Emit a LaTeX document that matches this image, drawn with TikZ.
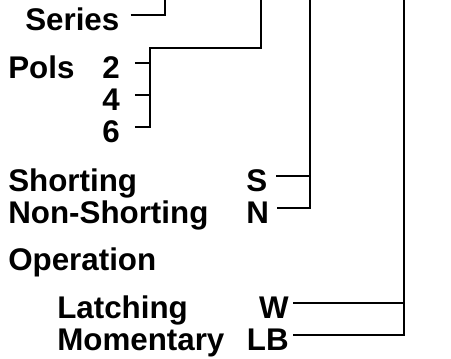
\documentclass[tikz,border=0pt]{standalone}
\usepackage{fontspec}
\setmainfont{Liberation Sans}
\usetikzlibrary{positioning, calc}

\begin{document}
\begin{tikzpicture}[
        x=0.75pt, y=-0.75pt,
        lbl/.style={anchor=base west, inner sep=0pt, font=\fontsize{23.5}{28}\selectfont\bfseries},
        code/.style={lbl},
        wire/.style={line width=1.4pt}
    ]
        \useasboundingbox (0,0) rectangle (451,358);

        % Beschriftungen links
        \node[lbl] (series) at (25,30) {Series};
        \node[lbl] (pols) at (8,78) {Pols};
        \node[lbl] (shorting) at (8,191) {Shorting};
        \node[lbl] (nonshorting) at (8,223) {Non-Shorting};
        \node[lbl] (operation) at (8,270) {Operation};
        \node[lbl] (latching) at (57,318) {Latching};
        \node[lbl] (momentary) at (57,350) {Momentary};

        % Kennbuchstaben
        \node[code] (p2) at (102,78) {2};
        \node[code] (p4) at (102,110) {4};
        \node[code] (p6) at (102,142) {6};
        \node[code] (s) at (246,191) {S};
        \node[code] (n) at (246,223) {N};
        \node[code, anchor=base east] (w) at (289,318) {W};
        \node[code, anchor=base east] (lb) at (289,350) {LB};

        % Sammelleitungen
        \coordinate (busA) at (165,0);
        \coordinate (busP) at (150,48);
        \coordinate (busB) at (261,0);
        \coordinate (busC) at (310,0);
        \coordinate (busD) at (404,0);

        % Verbindungen
        \draw[wire] ([shift={(11,-15)}]series.base east) -| (busA);
        \draw[wire] ([shift={(15,-15)}]p6.base east) -| (busP) -| (busB);
        \draw[wire] ([shift={(15,-15)}]p2.base east) coordinate (t2) -- (t2 -| busP);
        \draw[wire] ([shift={(15,-15)}]p4.base east) coordinate (t4) -- (t4 -| busP);
        \draw[wire] ([shift={(8,-15)}]n.base east) -| (busC);
        \draw[wire] ([shift={(9,-15)}]s.base east) coordinate (ts) -- (ts -| busC);
        \draw[wire] ([shift={(4,-15)}]lb.base east) -| (busD);
        \draw[wire] ([shift={(4,-15)}]w.base east) coordinate (tw) -- (tw -| busD);
    \end{tikzpicture}
\end{document}
